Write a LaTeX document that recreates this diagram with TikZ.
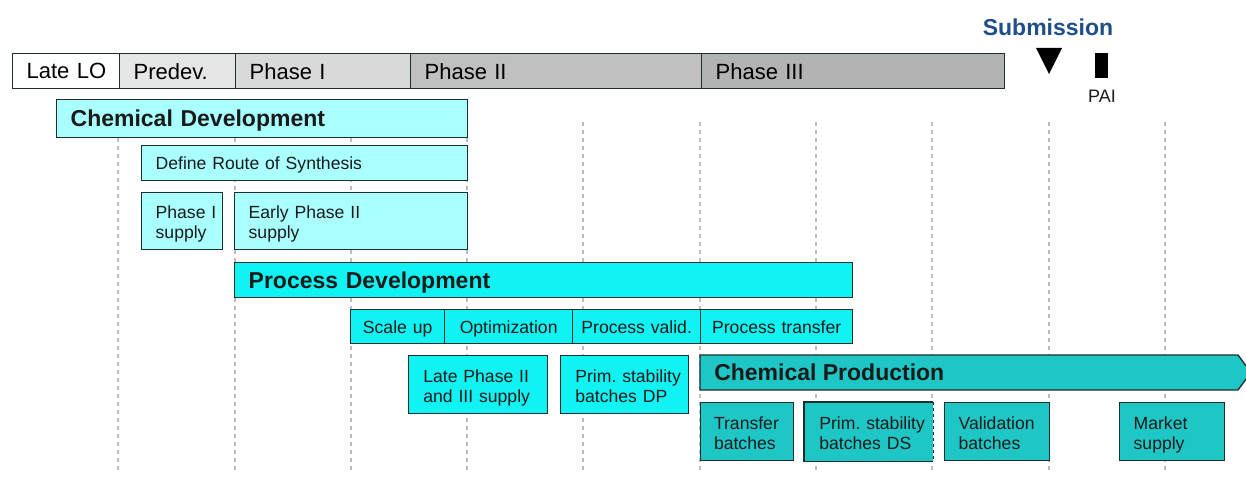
\documentclass[tikz,border=0pt]{standalone}
\usepackage{fontspec}
\setmainfont{Liberation Sans}
\frenchspacing
\definecolor{lc}{HTML}{AAFFFF}
\definecolor{pc}{HTML}{11F2F2}
\definecolor{tc}{HTML}{1FC6C6}
\definecolor{bd}{HTML}{1E2E2E}
\definecolor{sb}{HTML}{1F4E8A}
\definecolor{dl}{HTML}{BDBDBD}
\definecolor{tx}{HTML}{1A1A1A}
\definecolor{pa}{HTML}{E6E6E6}
\definecolor{pb}{HTML}{D9D9D9}
\definecolor{pcc}{HTML}{C0C0C0}
\definecolor{pd}{HTML}{B3B3B3}
% name, style, x1, y1, x2, y2, horizontal padding (pt), text
\newcommand\mybox[8]{%
  \pgfmathsetmacro\bw{(#5-#3)*0.75}%
  \pgfmathsetmacro\bh{(#6-#4)*0.75}%
  \pgfmathsetmacro\tw{(#5-#3)*0.75-2*#7}%
  \node[text depth=0pt, #2, anchor=north west, inner xsep=#7pt, inner ysep=0pt,
        minimum width=\bw pt, minimum height=\bh pt, text width=\tw pt] (#1) at (#3,#4) {#8};}
\begin{document}
\begin{tikzpicture}[x=0.75pt,y=-0.75pt,
  border/.style={draw=bd, line width=1pt},
  phase/.style={border, align=left, text=black, font=\fontsize{16.5}{18}\selectfont},
  lbox/.style={border, align=left, text=tx, font=\fontsize{13.2}{15}\selectfont},
  cbox/.style={border, align=center, text=tx, font=\fontsize{13.2}{15}\selectfont},
  two/.style={text depth=13pt},
  title/.style={font=\bfseries\fontsize{17.25}{19}\selectfont},
  grid/.style={dl, line width=0.9pt, dash pattern=on 3pt off 3pt}]
\useasboundingbox (0,0) rectangle (1246,477);
% vertical guide lines
\foreach \x in {118,235,351,467,583,700,816,932,1049,1165}
  \draw[grid] (\x,122) -- (\x,474);
% phase bar
\mybox{latelo}{phase, fill=white}{12}{53}{119}{88}{10.5}{\mbox{Late LO}}
\mybox{predev}{phase, fill=pa}{119}{53}{235}{88}{10.5}{\mbox{Predev.}}
\mybox{phI}{phase, fill=pb}{235}{53}{410}{88}{10.5}{\mbox{Phase I}}
\mybox{phII}{phase, fill=pcc}{410}{53}{701}{88}{10.5}{\mbox{Phase II}}
\mybox{phIII}{phase, fill=pd}{701}{53}{1004}{88}{10.5}{\mbox{Phase III}}
% submission / PAI
\node[title, text=sb, inner sep=0] (sub) at (1048,27) {Submission};
\fill[black] (1036,48) -- (1062,48) -- (1049,74) -- cycle;
\fill[black] (1095,53) rectangle (1108,78);
\node[font=\fontsize{13.5}{15}\selectfont, text=tx, inner sep=0] (pai) at (1102,96) {PAI};
% chemical development
\mybox{chemdev}{lbox, fill=lc, title}{56}{99}{467}{137}{10.5}{Chemical Development}
\mybox{route}{lbox, fill=lc}{141}{145}{467}{180}{10.5}{Define Route of Synthesis}
\mybox{phIs}{lbox, fill=lc, two}{141}{192}{222}{249}{10.5}{\mbox{Phase I}\\supply}
\mybox{ephII}{lbox, fill=lc, two}{234}{192}{467}{249}{10.5}{Early Phase II\\supply}
% process development
\mybox{procdev}{lbox, fill=pc, title}{234}{262}{852}{297}{10.5}{Process Development}
\mybox{scale}{cbox, fill=pc}{350}{309}{444}{343}{2}{Scale up}
\mybox{optim}{cbox, fill=pc}{444}{309}{572}{343}{2}{Optimization}
\mybox{pvalid}{cbox, fill=pc}{572}{309}{700}{343}{2}{Process valid.}
\mybox{ptrans}{cbox, fill=pc}{700}{309}{852}{343}{2}{Process transfer}
\mybox{late}{lbox, fill=pc, two}{408}{355}{547}{413}{11}{Late Phase II\\and III supply}
\mybox{primdp}{lbox, fill=pc, two}{560}{355}{688}{413}{11}{\mbox{Prim. stability}\\batches DP}
% chemical production
\draw[border, fill=tc] (700,355) -- (1238,355) -- (1251,372.5) -- (1238,390) -- (700,390) -- cycle;
\node[title, text=tx, anchor=west, inner sep=0] (chemprod) at (714,372.5) {Chemical Production};
\mybox{transfer}{lbox, fill=tc, two}{700}{402}{793}{460}{10}{Transfer\\batches}
\mybox{primds}{lbox, fill=tc, two, draw=none}{804}{402}{932}{460}{11}{\mbox{Prim. stability}\\batches DS}
\draw[border] (primds.north east) -- (primds.north west) -- (primds.south west) -- (primds.south east);
\draw[border, dash pattern=on 2.5pt off 2pt] (primds.north east) -- (primds.south east);
\mybox{validb}{lbox, fill=tc, two}{944}{402}{1049}{460}{10.5}{Validation\\batches}
\mybox{market}{lbox, fill=tc, two}{1119}{402}{1224}{460}{10.5}{Market\\supply}
\end{tikzpicture}
\end{document}
